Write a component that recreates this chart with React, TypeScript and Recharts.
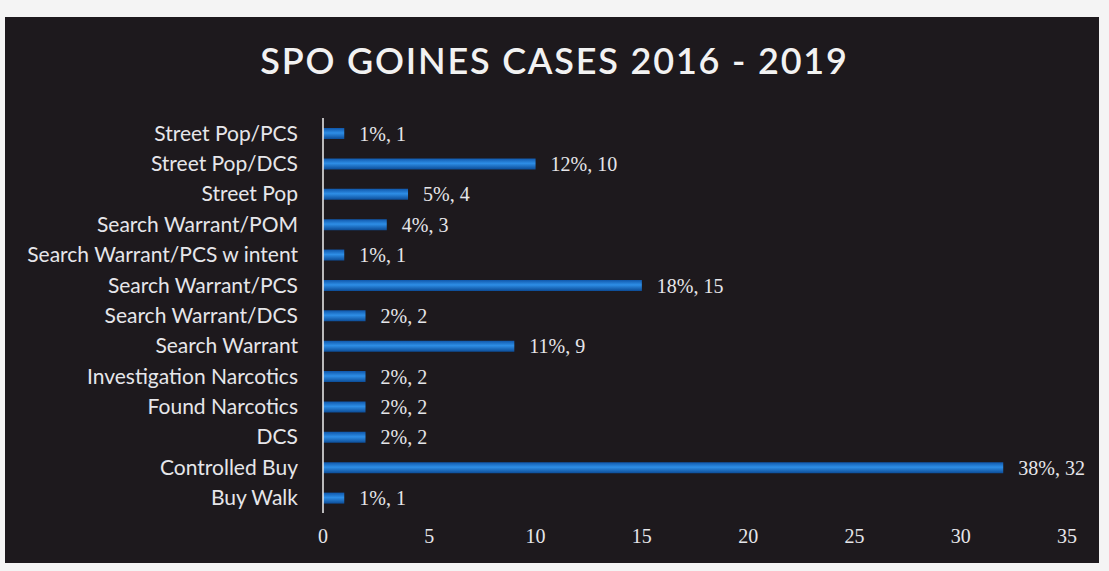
import React from "react";
import { BarChart, Bar, XAxis, YAxis, LabelList } from "recharts";

const categories = [
  "Street Pop/PCS",
  "Street Pop/DCS",
  "Street Pop",
  "Search Warrant/POM",
  "Search Warrant/PCS w intent",
  "Search Warrant/PCS",
  "Search Warrant/DCS",
  "Search Warrant",
  "Investigation Narcotics",
  "Found Narcotics",
  "DCS",
  "Controlled Buy",
  "Buy Walk",
];
const counts = [1, 10, 4, 3, 1, 15, 2, 9, 2, 2, 2, 32, 1];
const percents = [1, 12, 5, 4, 1, 18, 2, 11, 2, 2, 2, 38, 1];
const xTicks = [0, 5, 10, 15, 20, 25, 30, 35];

const data = categories.map((c, i) => ({
  name: c,
  value: counts[i],
  label: `${percents[i]}%, ${counts[i]}`,
}));

const TEXT = "#e6e6ea";

export default function App() {
  return (
    <div style={{ position: "absolute", left: 0, top: 0, width: 1109, height: 571, background: "#f4f4f4" }}>
      <div
        style={{
          position: "absolute",
          left: 5,
          top: 17,
          width: 1094,
          height: 546,
          background: "#1d191d",
        }}
      />
      <div
        style={{
          position: "absolute",
          left: 0,
          top: 38,
          width: 1109,
          textAlign: "center",
          color: "#f2f2f2",
          fontFamily: "Lato, 'Open Sans', sans-serif",
          fontSize: 36,
          fontWeight: 600,
          letterSpacing: 1.8,
        }}
      >
        SPO GOINES CASES 2016 - 2019
      </div>
      <div style={{ position: "absolute", left: 0, top: 0 }}>
        <BarChart
          width={1109}
          height={571}
          data={data}
          layout="vertical"
          margin={{ top: 118, right: 42, bottom: 28, left: 0 }}
          barCategoryGap={0}
        >
          <defs>
            <linearGradient id="barGrad" x1="0" y1="0" x2="0" y2="1">
              <stop offset="0%" stopColor="#0f57ab" />
              <stop offset="45%" stopColor="#2e8ee6" />
              <stop offset="100%" stopColor="#0c4c97" />
            </linearGradient>
          </defs>
          <XAxis
            type="number"
            domain={[0, 35]}
            ticks={xTicks}
            axisLine={false}
            tickLine={false}
            tickSize={0}
            tickMargin={16}
            height={30}
            tick={{ fill: TEXT, fontSize: 20, fontFamily: "'Liberation Serif', serif" }}
          />
          <YAxis
            type="category"
            dataKey="name"
            width={323}
            axisLine={{ stroke: "#f0f0f0", strokeWidth: 1.5 }}
            tickLine={false}
            tickSize={0}
            tickMargin={25}
            interval={0}
            tick={{ fill: TEXT, fontSize: 21, fontFamily: "Lato, 'Open Sans', sans-serif" }}
          />
          <Bar dataKey="value" fill="url(#barGrad)" barSize={11} isAnimationActive={false}>
            <LabelList
              dataKey="label"
              position="right"
              offset={15}
              fill={TEXT}
              fontSize={20}
              fontFamily="'Liberation Serif', serif"
            />
          </Bar>
        </BarChart>
      </div>
    </div>
  );
}
